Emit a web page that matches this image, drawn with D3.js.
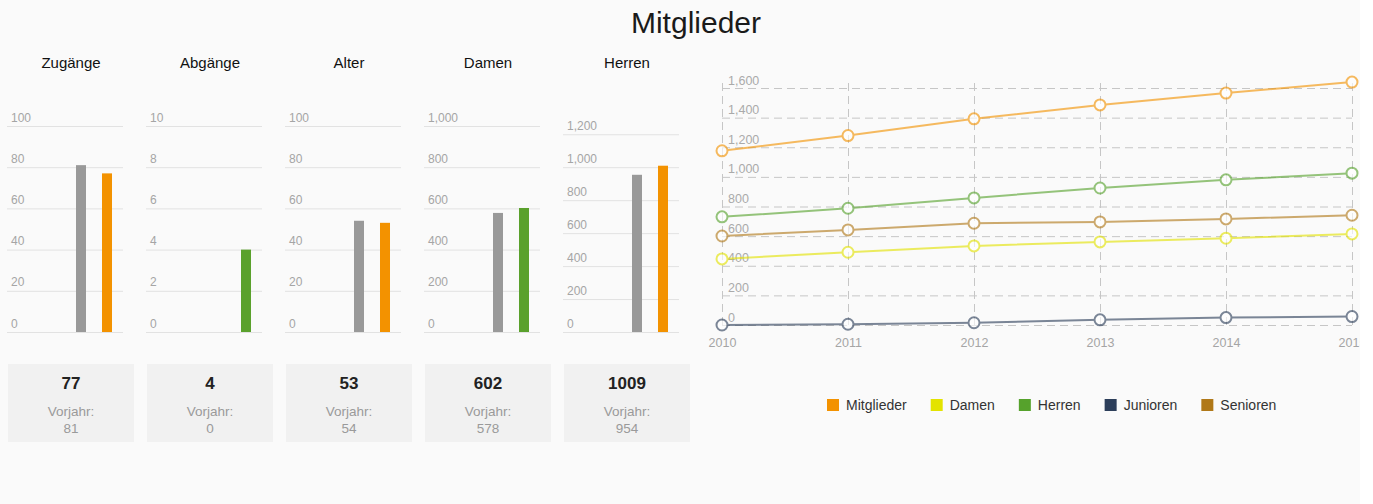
<!DOCTYPE html>
<html>
<head>
<meta charset="utf-8">
<script src="https://cdn.jsdelivr.net/npm/d3@7"></script>
<style>
    body { margin: 0; background: #fff; font-family: "Liberation Sans", Arial, sans-serif; }
    #chart { width: 1360px; height: 504px; background: #fafafa; overflow: hidden; }
</style>
</head>
<body>
<div id="chart"></div>
<script>
// small multiples (current year vs previous year)
const panelNames = ['Zugänge', 'Abgänge', 'Alter', 'Damen', 'Herren'];
const currentValues = [77, 4, 53, 602, 1009];
const previousValues = [81, 0, 54, 578, 954];
const panelMax = [100, 10, 100, 1000, 1250];
const panelTickStep = [20, 2, 20, 200, 200];
const panelTickMax = [100, 10, 100, 1000, 1200];

// line chart
const years = [2010, 2011, 2012, 2013, 2014, 2015];
const mitglieder = [1176, 1279, 1392, 1486, 1566, 1640];
const damen = [446, 491, 534, 561, 586, 615];
const herren = [730, 788, 858, 925, 980, 1025];
const junioren = [0, 5, 15, 35, 50, 57];
const senioren = [601, 642, 687, 696, 716, 741];
const seriesNames = ['Mitglieder', 'Damen', 'Herren', 'Junioren', 'Senioren'];
const yTicks = [0, 200, 400, 600, 800, 1000, 1200, 1400, 1600];

const orange = '#f39200', green = '#5aa12c', grey = '#999999';
const panelColors = [orange, green, orange, green, orange];
const seriesColors = ['#f39200', '#e3e300', '#56a22c', '#2c3e5a', '#b07818'];

const svg = d3.select('#chart').append('svg')
    .attr('width', 1360)
    .attr('height', 504);

svg.append('text')
    .attr('x', 696)
    .attr('y', 33)
    .attr('text-anchor', 'middle')
    .style('font-size', '30px')
    .style('fill', '#1a1a1a')
    .text('Mitglieder');

const fmt = d3.format(',');

// --- small multiples ---
const panelX = d3.scaleBand()
    .domain(panelNames)
    .range([8, 8 + 139 * (5 - 13 / 139)])
    .paddingInner(13 / 139);

panelNames.forEach((name, i) => {
    const x0 = panelX(name);
    const bw = panelX.bandwidth();
    const g = svg.append('g');

    g.append('text')
        .attr('x', x0 + bw / 2)
        .attr('y', 68)
        .attr('text-anchor', 'middle')
        .style('font-size', '15px')
        .style('fill', '#111')
        .text(name);

    const y = d3.scaleLinear().domain([0, panelMax[i]]).range([332, 126]);

    const axis = g.append('g')
        .attr('transform', 'translate(' + (x0 - 1) + ',0)')
        .call(d3.axisRight(y)
            .tickValues(d3.range(0, panelTickMax[i] + 1, panelTickStep[i]))
            .tickSize(116)
            .tickFormat(fmt));
    axis.select('.domain').remove();
    axis.selectAll('line').attr('stroke', '#e2e2e2');
    axis.selectAll('text')
        .attr('x', 4)
        .attr('y', -5)
        .attr('dy', 0)
        .attr('text-anchor', 'start')
        .style('font-size', '12px')
        .style('font-family', '"Liberation Sans", Arial, sans-serif')
        .style('fill', '#a5a5a5');

    const bx = d3.scaleBand()
        .domain(['Vorjahr', 'Aktuell'])
        .range([x0 + 60, x0 + 112])
        .paddingInner(0.615)
        .paddingOuter(0.3075);

    const barData = [
        { key: 'Vorjahr', value: previousValues[i], color: grey },
        { key: 'Aktuell', value: currentValues[i], color: panelColors[i] }
    ];
    g.selectAll('rect.bar')
        .data(barData)
        .enter().append('rect')
        .attr('class', 'bar')
        .attr('x', d => bx(d.key))
        .attr('width', bx.bandwidth())
        .attr('y', d => y(d.value))
        .attr('height', d => y(0) - y(d.value))
        .attr('fill', d => d.color);

    // summary box
    g.append('rect')
        .attr('x', x0)
        .attr('y', 364)
        .attr('width', bw)
        .attr('height', 78)
        .attr('fill', '#f1f1f1');
    g.append('text')
        .attr('x', x0 + bw / 2)
        .attr('y', 389)
        .attr('text-anchor', 'middle')
        .style('font-size', '17px')
        .style('font-weight', 'bold')
        .style('fill', '#222')
        .text(currentValues[i]);
    g.append('text')
        .attr('x', x0 + bw / 2)
        .attr('y', 416)
        .attr('text-anchor', 'middle')
        .style('font-size', '13.5px')
        .style('fill', '#9a9a9a')
        .text('Vorjahr:');
    g.append('text')
        .attr('x', x0 + bw / 2)
        .attr('y', 433)
        .attr('text-anchor', 'middle')
        .style('font-size', '13.5px')
        .style('fill', '#9a9a9a')
        .text(previousValues[i]);
});

// --- line chart ---
const x = d3.scaleLinear().domain([2010, 2015]).range([722, 1352]);
const y = d3.scaleLinear().domain([0, 1600]).range([325, 88]);

const yGrid = svg.append('g')
    .attr('transform', 'translate(722,0)')
    .call(d3.axisRight(y).tickValues(yTicks).tickSize(630).tickFormat(fmt));
yGrid.select('.domain').remove();
yGrid.selectAll('line').attr('stroke', '#c6c6c6').attr('stroke-dasharray', '8,5');
yGrid.selectAll('text')
    .attr('x', 6)
    .attr('y', -4)
    .attr('dy', 0)
    .attr('text-anchor', 'start')
    .style('font-size', '12.5px')
    .style('font-family', '"Liberation Sans", Arial, sans-serif')
    .style('fill', '#aaa');

const xGrid = svg.append('g')
    .attr('transform', 'translate(0,325)')
    .call(d3.axisBottom(x).tickValues(years).tickSize(-247).tickFormat(d3.format('d')));
xGrid.select('.domain').remove();
xGrid.selectAll('line').attr('stroke', '#c6c6c6').attr('stroke-dasharray', '8,5');
xGrid.selectAll('text')
    .attr('y', 13)
    .style('font-size', '12.5px')
    .style('font-family', '"Liberation Sans", Arial, sans-serif')
    .style('fill', '#a5a5a5');

const seriesData = [mitglieder, damen, herren, junioren, senioren];
const line = d3.line().x((d, i) => x(years[i])).y(d => y(d));

seriesData.forEach((values, s) => {
    const g = svg.append('g').attr('opacity', 0.62);
    g.append('path')
        .datum(values)
        .attr('d', line)
        .attr('fill', 'none')
        .attr('stroke', seriesColors[s])
        .attr('stroke-width', 2);
    g.selectAll('circle')
        .data(values)
        .enter().append('circle')
        .attr('cx', (d, i) => x(years[i]))
        .attr('cy', d => y(d))
        .attr('r', 5.5)
        .attr('fill', '#fff')
        .attr('stroke', seriesColors[s])
        .attr('stroke-width', 2);
});

// legend
const legend = svg.append('g').attr('transform', 'translate(827,405)');
let lx = 0;
seriesNames.forEach((name, s) => {
    const item = legend.append('g').attr('transform', 'translate(' + lx + ',0)');
    item.append('rect')
        .attr('x', 0).attr('y', -6)
        .attr('width', 12).attr('height', 12)
        .attr('fill', seriesColors[s]);
    const t = item.append('text')
        .attr('x', 19)
        .attr('y', 5)
        .style('font-size', '14px')
        .style('fill', '#333')
        .text(name);
    lx += 19 + t.node().getComputedTextLength() + 24;
});
</script>
</body>
</html>
